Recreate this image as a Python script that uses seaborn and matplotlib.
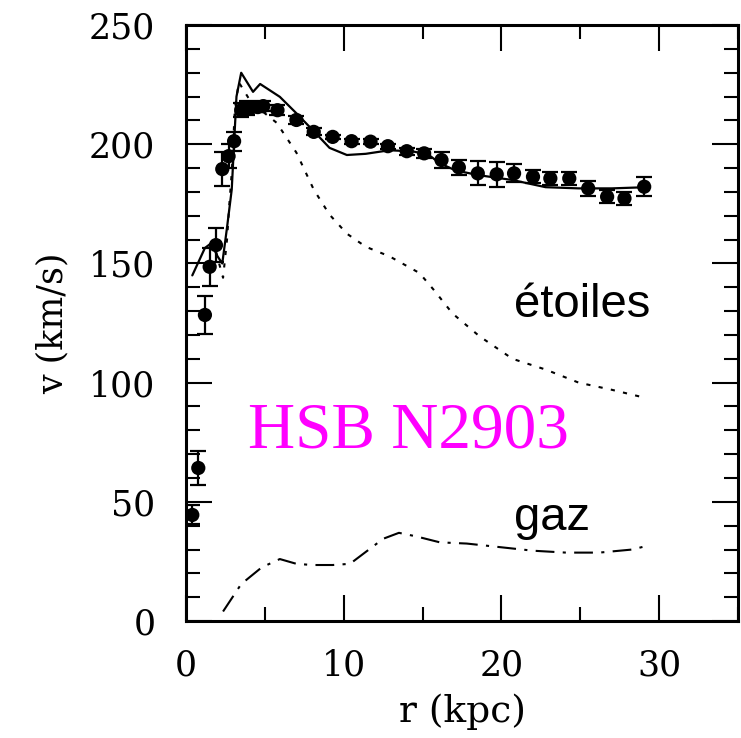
import numpy as np
import matplotlib
matplotlib.use("Agg")
import matplotlib.pyplot as plt
import seaborn as sns

# --- data ---
# observed rotation curve (points with error bars)
obs_r = [0.4, 0.78, 1.2, 1.5, 1.9, 2.3, 2.7, 3.05, 3.5, 3.85, 4.2, 4.55, 4.9,
         5.8, 7.0, 8.1, 9.3, 10.5, 11.7, 12.8, 14.0, 15.1, 16.2, 17.3, 18.5,
         19.7, 20.8, 22.0, 23.1, 24.3, 25.5, 26.7, 27.8, 29.05]
obs_v = [44.5, 64.2, 128.4, 148.6, 157.7, 189.6, 195.0, 201.3, 214.3, 215.2,
         215.6, 215.6, 216.0, 214.3, 210.2, 205.2, 203.1, 201.3, 201.1, 199.2,
         197.1, 196.2, 193.4, 190.3, 187.8, 187.4, 187.8, 186.4, 185.7, 185.7,
         181.5, 178.0, 177.3, 182.2]
obs_err = [4, 7, 8, 8, 7, 7, 5, 4, 3, 3, 2, 2, 2, 2, 1.5, 1.5, 1, 1, 1, 1,
           1.5, 2, 3.3, 3, 5, 5.2, 3.8, 2.8, 2.8, 2.8, 3, 2.8, 2.8, 4]

# total model (solid)
tot_r = [0.4, 1.2, 1.6, 2.0, 2.3, 2.6, 2.9, 3.2, 3.5, 4.25, 4.7, 5.95, 7.0,
         8.1, 9.1, 10.2, 11.4, 12.9, 14.4, 15.4, 16.1, 17.1, 18.6, 20.7, 22.8,
         24.9, 27.0, 29.2]
tot_v = [145, 156.5, 158.5, 153, 150, 165, 181, 220, 230, 222, 225.3, 219.9,
         213, 205.5, 198.5, 195.5, 196, 197.5, 197, 195.5, 192, 189, 187, 185,
         182, 181.5, 181.5, 182]

# stellar disk (dotted)
star_r = [1.9, 2.1, 2.35, 2.6, 2.75, 2.9, 3.1, 3.35, 4.0, 5.0, 5.75, 7.0,
          8.1, 9.1, 10.2, 11.4, 12.9, 14.8, 15.7, 16.9, 18.6, 20.7, 22.8,
          24.9, 27.0, 29.2]
star_v = [155, 150, 144, 160, 175, 188, 215, 226, 219, 213, 209, 196.5,
          181, 170.5, 162.5, 157, 153, 146, 139, 129, 119.5, 110, 105.5,
          100, 97, 93.5]

# gas (dash-dot)
gas_r = [2.35, 3.5, 4.8, 5.95, 7.0, 8.0, 9.3, 10.4, 11.4, 12.5, 13.5, 14.6,
         16.1, 17.8, 19.9, 22.0, 24.1, 26.2, 28.3, 29.2]
gas_v = [4, 15.5, 22.5, 26, 24, 23.5, 23.5, 24, 29, 34.5, 37, 35.5, 33, 32.5,
         31, 29.5, 28.7, 28.7, 30, 31.5]

sns.set_style("ticks")
plt.rcParams['font.family'] = ['DejaVu Serif']

fig = plt.figure(figsize=(7.41, 7.38), dpi=100)
ax = fig.add_axes([0.251, 0.1585, 0.745, 0.8075])

# model curves
sns.lineplot(x=tot_r, y=tot_v, ax=ax, color='black', lw=1.6, sort=False)
sns.lineplot(x=star_r, y=star_v, ax=ax, color='black', lw=1.5, sort=False,
             linestyle=(0, (2, 4)))
sns.lineplot(x=gas_r, y=gas_v, ax=ax, color='black', lw=1.5, sort=False,
             linestyle=(0, (9, 4, 1.5, 4)))

# observed points
ax.errorbar(obs_r, obs_v, yerr=obs_err, fmt='none', ecolor='black',
            elinewidth=1.6, capsize=5.5, capthick=1.6, zorder=3)
sns.scatterplot(x=obs_r, y=obs_v, ax=ax, color='black', s=105,
                edgecolor='none', zorder=4)

ax.set_xlim(0, 35)
ax.set_ylim(0, 250)
ax.set_xticks([0, 10, 20, 30])
ax.set_xticks(np.arange(0, 36, 5), minor=True)
ax.set_yticks(np.arange(0, 251, 50))
ax.set_yticks(np.arange(0, 251, 10), minor=True)

ax.tick_params(which='both', direction='in', top=True, right=True,
               width=1.5, colors='black')
ax.tick_params(which='major', length=19, labelsize=25)
ax.tick_params(axis='y', which='major', pad=22)
ax.tick_params(axis='x', which='major', pad=20)
ax.tick_params(which='minor', length=10)
for s in ax.spines.values():
    s.set_linewidth(2.2)
    s.set_color('black')

ax.set_xlabel('r (kpc)', fontsize=27, labelpad=8, color='black')
ax.set_ylabel('v (km/s)', fontsize=25, labelpad=14, color='black')

# annotations
ax.text(20.8, 127.5, 'étoiles', fontsize=34, color='black',
        family=['Liberation Sans', 'DejaVu Sans'])
ax.text(20.8, 38, 'gaz', fontsize=34, color='black',
        family=['Liberation Sans', 'DejaVu Sans'])
ax.text(3.9, 73, 'HSB N2903', fontsize=47, color='#ff00ff',
        family=['Liberation Serif', 'DejaVu Serif'])

fig.savefig('out.png', dpi=100)
